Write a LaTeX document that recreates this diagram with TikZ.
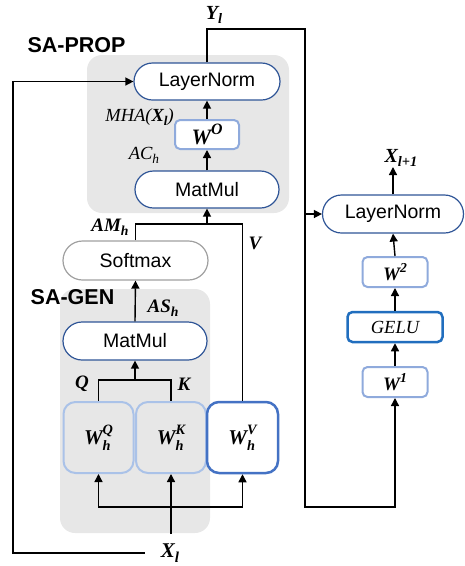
\documentclass[tikz,border=0pt]{standalone}
\usepackage{fontspec}
\setmainfont{Liberation Sans}
\newfontfamily\mfam{Liberation Serif}
\usetikzlibrary{arrows.meta}
\definecolor{navy}{RGB}{47,85,151}
\definecolor{lblue}{RGB}{143,170,220}
\definecolor{pblue}{RGB}{170,194,232}
\definecolor{mblue}{RGB}{68,114,196}
\definecolor{gblue}{RGB}{33,110,190}
\definecolor{sgrey}{RGB}{160,160,160}
\definecolor{bgrey}{RGB}{231,231,231}
\newcommand{\fsz}[1]{\fontsize{#1}{#1}\selectfont}
\newcommand{\mi}{\mfam\itshape}
\newcommand{\mb}{\mfam\bfseries\itshape}
\newcommand{\sps}[1]{\raisebox{0.42em}{\scalebox{0.72}{#1}}}
\newcommand{\sbs}[1]{\raisebox{-0.22em}{\scalebox{0.72}{#1}}}
\newcommand{\hsp}[1]{\raisebox{0.48em}{\scalebox{0.68}{#1}}}
\newcommand{\hsb}[1]{\raisebox{-0.28em}{\scalebox{0.68}{#1}}}
\newcommand{\spsb}[2]{\setbox0\hbox{\hsp{#1}}\setbox2\hbox{\hsb{#2}}\ifdim\wd0>\wd2 \rlap{\box2}\box0\else\rlap{\box0}\box2\fi}
\tikzset{
  pill/.style={draw=navy, line width=1.2pt, fill=white, rounded corners=18.5pt, minimum height=37pt, inner sep=0pt, font=\fsz{19.5}},
  wbox/.style={draw=lblue, line width=2pt, fill=white, rounded corners=5pt, minimum width=65pt, minimum height=30pt, inner sep=0pt, font=\mb\fsz{19}},
  hbox/.style={draw=pblue, line width=2pt, rounded corners=12pt, minimum width=70pt, minimum height=71pt, inner sep=0pt, font=\mb\fsz{21}},
  grp/.style={fill=bgrey, rounded corners=15pt},
  conn/.style={line width=1.4pt, draw=black},
  arr/.style={conn, -{Triangle[length=8pt,width=8pt]}},
  lab/.style={inner sep=0pt, font=\mb\fsz{19}},
  title/.style={inner sep=0pt, font=\bfseries\fsz{21.5}}
}
\begin{document}
\begin{tikzpicture}[x=1pt,y=-1pt]
\useasboundingbox (0,0) rectangle (465,566);
% groups
\fill[grp] (87,55) rectangle (289,213);
\fill[grp] (60,289) rectangle (210,533);
\node[title] (tprop) at (76.5,45) {SA-PROP};
\node[title] (tgen) at (72.5,297) {SA-GEN};
% SA-PROP nodes
\node[pill, minimum width=146pt] (ln1) at (207,81.5) {LayerNorm};
\node[wbox, minimum width=64pt, minimum height=29pt, font=\mb\fsz{22}] (wo) at (207,134.5) {W\sps{O}};
\node[pill, minimum width=144pt] (mm1) at (207,189.5) {MatMul};
\node[pill, draw=sgrey, minimum width=145pt, minimum height=39pt, rounded corners=19.5pt] (sm) at (135.5,260.5) {Softmax};
\node[pill, minimum width=144pt, minimum height=38pt, rounded corners=19pt] (mm2) at (135,341) {MatMul};
\node[hbox] (wq) at (98.5,437.5) {W\spsb{Q}{h}};
\node[hbox] (wk) at (171,437.5) {W\spsb{K}{h}};
\node[hbox, draw=mblue, line width=2.5pt, fill=white, minimum width=71pt] (wv) at (242.5,437.5) {W\spsb{V}{h}};
% FFN
\node[pill, minimum width=141pt, minimum height=38pt, rounded corners=19pt] (ln2) at (393,214) {LayerNorm};
\node[wbox] (w2) at (395,272) {W\sps{2}};
\node[wbox, draw=gblue, line width=2.5pt, minimum width=95pt, font=\mi\fsz{18.5}] (gelu) at (395,327) {GELU};
\node[wbox] (w1) at (395,382) {W\sps{1}};
% labels
\node[lab, font=\mb\fsz{21}, minimum width=50pt, minimum height=36pt] (xl) at (170,553) {X\sbs{l}};
\node[lab, font=\mb\fsz{20}, anchor=south] (xl1) at (401,167) {X\sbs{l+1}};
\node[lab, font=\mb\fsz{20}] (yl) at (214,15) {Y\sbs{l}};
\node[lab, font=\mi\fsz{18.5}, anchor=east] (mha) at (174,117) {MHA({\bfseries X\sbs{l}})};
\node[lab, font=\mi\fsz{18.5}] (ach) at (144,155) {AC\sbs{h}};
\node[lab] (amh) at (110,227) {AM\sbs{h}};
\node[lab] (vlab) at (255,243) {V};
\node[lab] (ash) at (163,308) {AS\sbs{h}};
\node[lab] (qlab) at (82,384) {Q};
\node[lab] (klab) at (184,384) {K};
% coordinates
\coordinate (ytop) at (305,29);
\coordinate (ybot) at (305,507);
\coordinate (am) at (135.5,224);
\coordinate (qk) at (135,380);
\coordinate (bb) at (171,507);
\coordinate (lft) at (13,553);
% connectors
\draw[arr] (mm1.north) -- (wo.south);
\draw[arr] (wo.north) -- (ln1.south);
\draw[arr] (ln1.north) |- (ytop) -- (ybot) -| (w1.south);
\draw[arr] (ytop |- ln2.west) -- (ln2.west);
\draw[arr] (w1.north) -- (gelu.south);
\draw[arr] (gelu.north) -- (w2.south);
\draw[arr] (w2.north) -- (ln2.south);
\draw[arr] (ln2.north) -- (ln2.north |- xl1.south);
\draw[conn] (sm.north) |- (wv.north |- am) -- (wv.north);
\draw[arr] (mm1.south |- am) -- (mm1.south);
\draw[arr] (mm2.north) -- (sm.south);
\draw[conn] (wq.north) |- (qk) -| (wk.north);
\draw[arr] (qk) -- (mm2.south);
\draw[arr] (bb) -| (wq.south);
\draw[arr] (bb) -| (wv.south);
\draw[arr] (171,534) -- (wk.south);
\draw[arr] (xl.west) -- (lft) |- (ln1.west);
\end{tikzpicture}
\end{document}
